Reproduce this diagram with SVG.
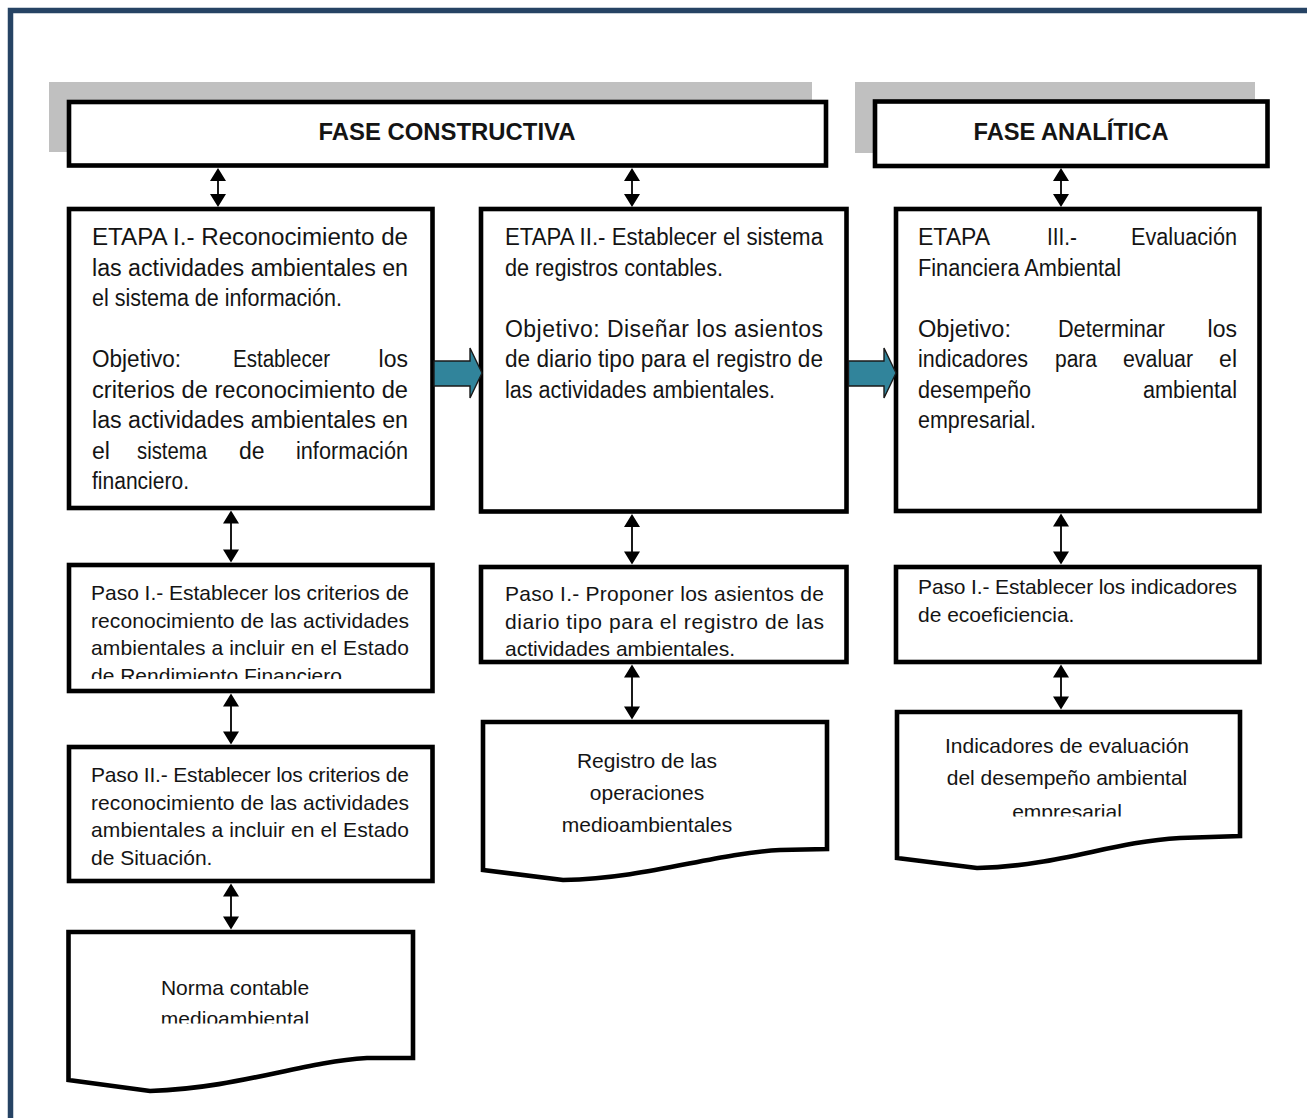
<svg xmlns="http://www.w3.org/2000/svg" width="1307" height="1118" viewBox="0 0 1307 1118">
<style>
.frame{fill:none;stroke:#264364;stroke-width:5.5}
.shadow{fill:#c0c0c0}
.box{fill:#fff;stroke:#000;stroke-width:4.6}
.doc{fill:#fff;stroke:#000;stroke-width:4.6;stroke-linejoin:miter}
.t{font-family:"Liberation Sans Narrow","Arial Narrow","Liberation Sans",sans-serif;font-size:23px;fill:#141414}
.s{font-size:21px}
.e{text-anchor:end}
.m{text-anchor:middle}
.h{font-family:"Liberation Sans","Arial",sans-serif;font-weight:bold;font-size:24px;fill:#141414;text-anchor:middle}
.ln{stroke:#000;stroke-width:1.8;fill:none}
.hd{fill:#000}
.blk{fill:#31849b;stroke:#1a1a1a;stroke-width:1.4}
</style>
<defs>
<clipPath id="c1"><rect x="60" y="560" width="380" height="119"/></clipPath>
<clipPath id="c2"><rect x="60" y="930" width="380" height="93.5"/></clipPath>
<clipPath id="c3"><rect x="890" y="710" width="360" height="106.5"/></clipPath>
</defs>
<rect width="1307" height="1118" fill="#fff"/>
<rect class="frame" x="10.5" y="10.5" width="1320" height="1140"/>

<g id="fase-constructiva">
<rect class="shadow" x="49" y="82" width="763" height="70"/>
<rect class="box" x="69" y="102" width="757" height="63.5"/>
<text class="h" x="447" y="140" textLength="257" lengthAdjust="spacingAndGlyphs">FASE CONSTRUCTIVA</text>
</g>

<g id="fase-analitica">
<rect class="shadow" x="855" y="82" width="400" height="71"/>
<rect class="box" x="875" y="101.5" width="392.5" height="64.5"/>
<text class="h" x="1071" y="140" textLength="195" lengthAdjust="spacingAndGlyphs">FASE ANALÍTICA</text>
</g>

<g id="etapa1">
<rect class="box" x="69" y="209" width="363.5" height="299"/>
<text class="t" x="92" y="245" textLength="316" lengthAdjust="spacingAndGlyphs">ETAPA I.- Reconocimiento de</text>
<text class="t" x="92" y="275.5" textLength="316" lengthAdjust="spacingAndGlyphs">las actividades ambientales en</text>
<text class="t" x="92" y="306" textLength="250" lengthAdjust="spacingAndGlyphs">el sistema de información.</text>
<text class="t" x="92" y="367" textLength="89" lengthAdjust="spacingAndGlyphs">Objetivo:</text>
<text class="t" x="233" y="367" textLength="97" lengthAdjust="spacingAndGlyphs">Establecer</text>
<text class="t e" x="408" y="367">los</text>
<text class="t" x="92" y="397.5" textLength="316" lengthAdjust="spacingAndGlyphs">criterios de reconocimiento de</text>
<text class="t" x="92" y="428" textLength="316" lengthAdjust="spacingAndGlyphs">las actividades ambientales en</text>
<text class="t" x="92" y="458.5">el</text>
<text class="t" x="137" y="458.5" textLength="70" lengthAdjust="spacingAndGlyphs">sistema</text>
<text class="t" x="239" y="458.5">de</text>
<text class="t" x="296" y="458.5" textLength="112" lengthAdjust="spacingAndGlyphs">información</text>
<text class="t" x="92" y="489" textLength="97" lengthAdjust="spacingAndGlyphs">financiero.</text>
</g>

<g id="etapa2">
<rect class="box" x="481" y="209" width="365.5" height="302.5"/>
<text class="t" x="505" y="245" textLength="318" lengthAdjust="spacingAndGlyphs">ETAPA II.- Establecer el sistema</text>
<text class="t" x="505" y="275.5" textLength="218" lengthAdjust="spacingAndGlyphs">de registros contables.</text>
<text class="t" x="505" y="336.5" textLength="318" lengthAdjust="spacing">Objetivo: Diseñar los asientos</text>
<text class="t" x="505" y="367" textLength="318" lengthAdjust="spacingAndGlyphs">de diario tipo para el registro de</text>
<text class="t" x="505" y="397.5" textLength="270" lengthAdjust="spacingAndGlyphs">las actividades ambientales.</text>
</g>

<g id="etapa3">
<rect class="box" x="896" y="209" width="363.5" height="302"/>
<text class="t" x="918" y="245" textLength="72" lengthAdjust="spacingAndGlyphs">ETAPA</text>
<text class="t" x="1047" y="245" textLength="30" lengthAdjust="spacingAndGlyphs">III.-</text>
<text class="t" x="1131" y="245" textLength="106" lengthAdjust="spacingAndGlyphs">Evaluación</text>
<text class="t" x="918" y="275.5" textLength="203" lengthAdjust="spacingAndGlyphs">Financiera Ambiental</text>
<text class="t" x="918" y="336.5" textLength="93" lengthAdjust="spacingAndGlyphs">Objetivo:</text>
<text class="t" x="1058" y="336.5" textLength="107" lengthAdjust="spacingAndGlyphs">Determinar</text>
<text class="t e" x="1237" y="336.5">los</text>
<text class="t" x="918" y="367" textLength="110" lengthAdjust="spacingAndGlyphs">indicadores</text>
<text class="t" x="1055" y="367" textLength="42" lengthAdjust="spacingAndGlyphs">para</text>
<text class="t" x="1123" y="367" textLength="70" lengthAdjust="spacingAndGlyphs">evaluar</text>
<text class="t e" x="1237" y="367">el</text>
<text class="t" x="918" y="397.5" textLength="113" lengthAdjust="spacingAndGlyphs">desempeño</text>
<text class="t" x="1143" y="397.5" textLength="94" lengthAdjust="spacingAndGlyphs">ambiental</text>
<text class="t" x="918" y="428" textLength="118" lengthAdjust="spacingAndGlyphs">empresarial.</text>
</g>

<g id="paso1-c1">
<rect class="box" x="69" y="565" width="363.5" height="126"/>
<text class="t s" x="91" y="600" textLength="318" lengthAdjust="spacing">Paso I.- Establecer los criterios de</text>
<text class="t s" x="91" y="627.5" textLength="318" lengthAdjust="spacing">reconocimiento de las actividades</text>
<text class="t s" x="91" y="655" textLength="318" lengthAdjust="spacing">ambientales a incluir en el Estado</text>
<text class="t s" x="91" y="683" clip-path="url(#c1)">de Rendimiento Financiero</text>
</g>

<g id="paso2-c1">
<rect class="box" x="69" y="747" width="363.5" height="134"/>
<text class="t s" x="91" y="782" textLength="318" lengthAdjust="spacing">Paso II.-  Establecer los criterios de</text>
<text class="t s" x="91" y="809.5" textLength="318" lengthAdjust="spacing">reconocimiento de las actividades</text>
<text class="t s" x="91" y="837" textLength="318" lengthAdjust="spacing">ambientales a incluir en el Estado</text>
<text class="t s" x="91" y="864.5">de Situación.</text>
</g>

<g id="norma">
<path class="doc" d="M68.5,932 H413 V1058 L367,1058 C300,1062 240,1088 150,1091 L68.5,1080 Z"/>
<text class="t s m" x="235" y="995">Norma contable</text>
<text class="t s m" x="235" y="1026" clip-path="url(#c2)">medioambiental</text>
</g>

<g id="paso1-c2">
<rect class="box" x="481" y="567" width="365.5" height="95"/>
<text class="t s" x="505" y="601" textLength="319" lengthAdjust="spacing">Paso I.- Proponer los asientos de</text>
<text class="t s" x="505" y="629" textLength="319" lengthAdjust="spacing">diario tipo para el registro de las</text>
<text class="t s" x="505" y="656">actividades ambientales.</text>
</g>

<g id="registro">
<path class="doc" d="M483,722 H827 V849 L780,850 C710,854 650,878 563,880 L483,870 Z"/>
<text class="t s m" x="647" y="768">Registro de las</text>
<text class="t s m" x="647" y="800">operaciones</text>
<text class="t s m" x="647" y="832">medioambientales</text>
</g>

<g id="paso1-c3">
<rect class="box" x="896" y="567" width="363.5" height="95"/>
<text class="t s" x="918" y="594" textLength="319" lengthAdjust="spacing">Paso I.- Establecer los indicadores</text>
<text class="t s" x="918" y="622">de ecoeficiencia.</text>
</g>

<g id="indicadores">
<path class="doc" d="M897,712 H1240 V836 L1180,838 C1110,842 1060,866 977,868 L897,858 Z"/>
<text class="t s m" x="1067" y="753">Indicadores de evaluación</text>
<text class="t s m" x="1067" y="785">del desempeño ambiental</text>
<text class="t s m" x="1067" y="819" clip-path="url(#c3)">empresarial</text>
</g>

<g id="connectors">
<path class="ln" d="M218,178 V197"/>
<path class="hd" d="M218,168 L210,181 L226,181 Z M218,207 L210,194 L226,194 Z"/>
<path class="ln" d="M632,178 V197"/>
<path class="hd" d="M632,168 L624,181 L640,181 Z M632,207 L624,194 L640,194 Z"/>
<path class="ln" d="M1061,178 V197"/>
<path class="hd" d="M1061,168 L1053,181 L1069,181 Z M1061,207 L1053,194 L1069,194 Z"/>
<path class="ln" d="M231,520 V553"/>
<path class="hd" d="M231,510.5 L223,523.5 L239,523.5 Z M231,562.5 L223,549.5 L239,549.5 Z"/>
<path class="ln" d="M231,703 V735"/>
<path class="hd" d="M231,693.5 L223,706.5 L239,706.5 Z M231,744.5 L223,731.5 L239,731.5 Z"/>
<path class="ln" d="M231,893 V920"/>
<path class="hd" d="M231,883.5 L223,896.5 L239,896.5 Z M231,929.5 L223,916.5 L239,916.5 Z"/>
<path class="ln" d="M632,523 V555"/>
<path class="hd" d="M632,514 L624,527 L640,527 Z M632,564.5 L624,551.5 L640,551.5 Z"/>
<path class="ln" d="M632,674 V709"/>
<path class="hd" d="M632,664.5 L624,677.5 L640,677.5 Z M632,719.5 L624,706.5 L640,706.5 Z"/>
<path class="ln" d="M1061,523 V555"/>
<path class="hd" d="M1061,513.5 L1053,526.5 L1069,526.5 Z M1061,564.5 L1053,551.5 L1069,551.5 Z"/>
<path class="ln" d="M1061,674 V699"/>
<path class="hd" d="M1061,664.5 L1053,677.5 L1069,677.5 Z M1061,709.5 L1053,696.5 L1069,696.5 Z"/>
<polygon class="blk" points="434,361 470,361 470,348 482,373 470,398 470,386 434,386"/>
<polygon class="blk" points="848.5,361 884,361 884,348 896,373 884,398 884,386 848.5,386"/>
</g>
</svg>
